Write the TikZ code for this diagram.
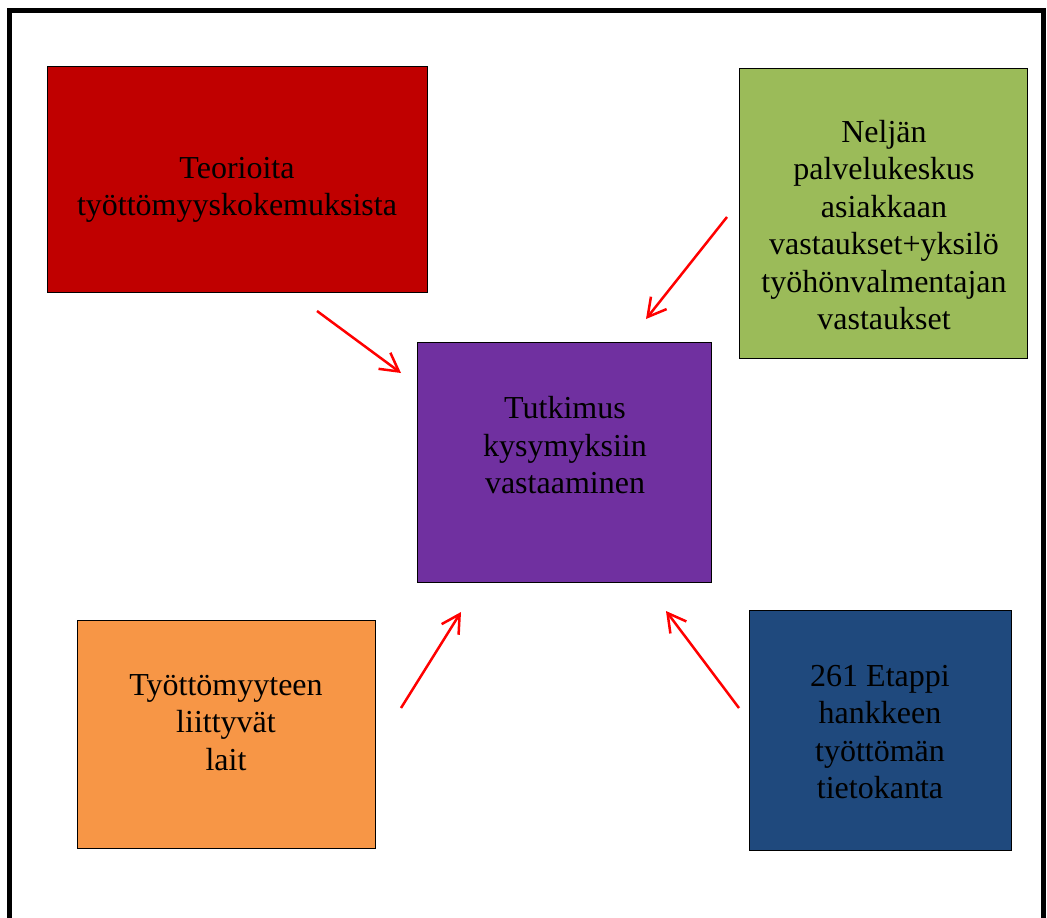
\documentclass[tikz,border=0pt]{standalone}
\usepackage{fontspec}
\setmainfont{Liberation Serif}
\usepackage{xcolor}
\usetikzlibrary{arrows.meta}

\definecolor{teorred}{HTML}{C00000}
\definecolor{nelgreen}{HTML}{9BBB59}
\definecolor{tutpurple}{HTML}{7030A0}
\definecolor{laiorange}{HTML}{F79646}
\definecolor{etablue}{HTML}{1F497D}

\begin{document}
\begin{tikzpicture} [x=1pt,y=-1pt,>={Straight Barb[length=18pt,width=20pt]}]
  \tikzstyle{box}=[rectangle,draw=black,line width=1pt,inner sep=0pt]
  \tikzstyle{txt}=[align=center,inner sep=0pt,font=\fontsize{32}{37.5}\selectfont]
  \tikzstyle{arr}=[->,draw=red,line width=2.5pt]

  \useasboundingbox (0,0) rectangle (1047,918);
  \draw[line width=4.5pt] (9.5,918) -- (9.5,10.5) -- (1043.5,10.5) -- (1043.5,918);

  % boxes
  \node[box,fill=teorred,minimum width=380pt,minimum height=226pt]   (T) at (237,179) {};
  \node[box,fill=nelgreen,minimum width=288pt,minimum height=290pt]  (N) at (883,213) {};
  \node[box,fill=tutpurple,minimum width=294pt,minimum height=240pt] (K) at (564,462) {};
  \node[box,fill=laiorange,minimum width=298pt,minimum height=228pt] (L) at (226,734) {};
  \node[box,fill=etablue,minimum width=262pt,minimum height=240pt]   (E) at (880,730) {};

  \node[txt] (Tt) at (237,190)   {Teorioita\\työttömyyskokemuksista};
  \node[txt] (Nt) at (884,225)   {Neljän\\palvelukeskus\\asiakkaan\\vastaukset+yksilö\\työhönvalmentajan\\vastaukset};
  \node[txt] (Kt) at (565,445.5) {Tutkimus\\kysymyksiin\\vastaaminen};
  \node[txt] (Lt) at (226,722.5) {Työttömyyteen\\liittyvät\\lait};
  \node[txt] (Et) at (880,732)   {261 Etappi\\hankkeen\\työttömän\\tietokanta};

  % arrows
  \coordinate (T1) at (317,311);
  \coordinate (T2) at (401,373);
  \coordinate (N1) at (727,217);
  \coordinate (N2) at (646,319);
  \coordinate (L1) at (401,708);
  \coordinate (L2) at (461,612);
  \coordinate (E1) at (739,708);
  \coordinate (E2) at (666,611);

  \draw[arr] (T1) -- (T2);
  \draw[arr] (N1) -- (N2);
  \draw[arr] (L1) -- (L2);
  \draw[arr] (E1) -- (E2);

\end{tikzpicture}
\end{document}
